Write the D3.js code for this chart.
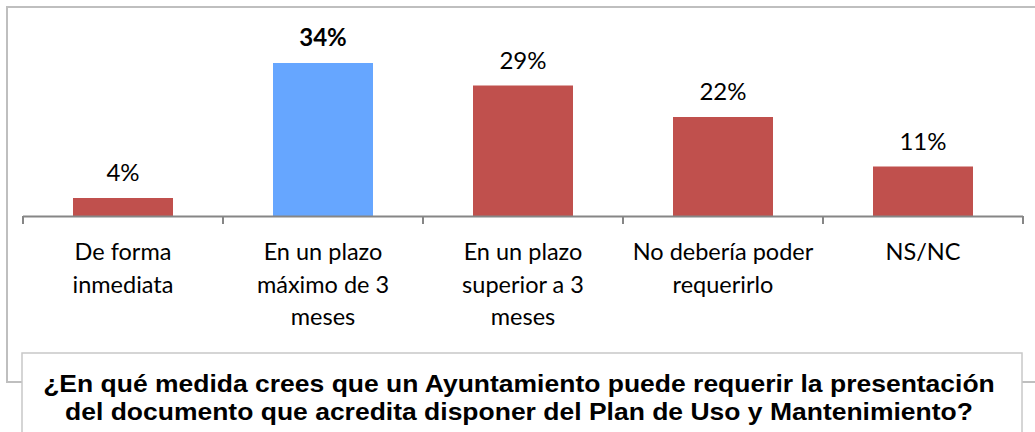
<!DOCTYPE html>
<html>
<head>
<meta charset="utf-8">
<script src="https://cdn.jsdelivr.net/npm/d3@7"></script>
<style>
html,body{margin:0;padding:0;background:#fff;}
svg{display:block;}
</style>
</head>
<body>
<svg id="chart" width="1035" height="432"></svg>
<script>
const categories = ["De forma inmediata","En un plazo máximo de 3 meses","En un plazo superior a 3 meses","No debería poder requerirlo","NS/NC"];
const categoryLines = [["De forma","inmediata"],["En un plazo","máximo de 3","meses"],["En un plazo","superior a 3","meses"],["No debería poder","requerirlo"],["NS/NC"]];
const values = [4,34,29,22,11];
const valueLabels = ["4%","34%","29%","22%","11%"];
const highlighted = [false,true,false,false,false];
const titleLines = ["¿En qué medida crees que un Ayuntamiento puede requerir la presentación","del documento que acredita disponer del Plan de Uso y Mantenimiento?"];

const svg = d3.select("#chart");
const labelFont = "Lato, 'Open Sans', sans-serif";

// outer chart border
svg.append("rect").attr("x",7).attr("y",7).attr("width",1040).attr("height",375)
  .attr("fill","#fff").attr("stroke","#bfbfbf").attr("stroke-width",2);

const x = d3.scaleBand().domain(categories).range([23,1023]).paddingInner(0.5).paddingOuter(0.25);
const y = d3.scaleLinear().domain([0,40]).range([216,36]);

const g = svg.append("g");

g.selectAll("rect.bar").data(values).join("rect").attr("class","bar")
  .attr("x",(d,i)=>x(categories[i]))
  .attr("width",x.bandwidth())
  .attr("y",d=>y(d))
  .attr("height",d=>y(0)-y(d))
  .attr("fill",(d,i)=>highlighted[i] ? "#66a6ff" : "#c0504d");

// axis line with ticks at band boundaries
const axisColor = "#868686";
g.append("line").attr("x1",23).attr("x2",1023).attr("y1",y(0)+0.5).attr("y2",y(0)+0.5)
  .attr("stroke",axisColor).attr("stroke-width",2);
const step = x.step();
const bounds = categories.map(c=>x(c) - (step - x.bandwidth())/2).concat([x.range()[1]]);
g.selectAll("line.tick").data(bounds).join("line").attr("class","tick")
  .attr("x1",d=>d).attr("x2",d=>d).attr("y1",y(0)).attr("y2",y(0)+8)
  .attr("stroke",axisColor).attr("stroke-width",2);

// value labels
g.selectAll("text.val").data(values).join("text").attr("class","val")
  .attr("x",(d,i)=>x(categories[i])+x.bandwidth()/2)
  .attr("y",d=>y(d)-17)
  .attr("text-anchor","middle")
  .attr("font-family",labelFont)
  .attr("font-size",24)
  .attr("font-weight",(d,i)=>highlighted[i] ? "bold" : "normal")
  .attr("fill","#000")
  .text((d,i)=>valueLabels[i]);

// category labels
categories.forEach((c,i)=>{
  const t = g.append("text")
    .attr("text-anchor","middle")
    .attr("font-family",labelFont)
    .attr("font-size",23.5)
    .attr("fill","#000");
  categoryLines[i].forEach((ln,j)=>{
    t.append("tspan").attr("x",x(c)+x.bandwidth()/2).attr("y",260+j*32.5).text(ln);
  });
});

// title box
svg.append("rect").attr("x",22).attr("y",353).attr("width",1000).attr("height",100)
  .attr("fill","#fff").attr("stroke","#c8c8c8").attr("stroke-width",1.5);
const tt = svg.append("text").attr("text-anchor","middle")
  .attr("font-family","'Liberation Sans', Arial, Helvetica, sans-serif")
  .attr("font-weight","bold").attr("font-size",23.5).attr("fill","#000");
const spans = titleLines.map((ln,j)=>
  tt.append("tspan").attr("x",519).attr("y",392+j*28).text(ln));
// stretch horizontally so the first line spans the reference width
const w0 = spans[0].node().getComputedTextLength();
if (w0 > 0) {
  const sx = 952/w0;
  tt.attr("transform",`translate(519,0) scale(${sx},1) translate(-519,0)`);
}
</script>
</body>
</html>
